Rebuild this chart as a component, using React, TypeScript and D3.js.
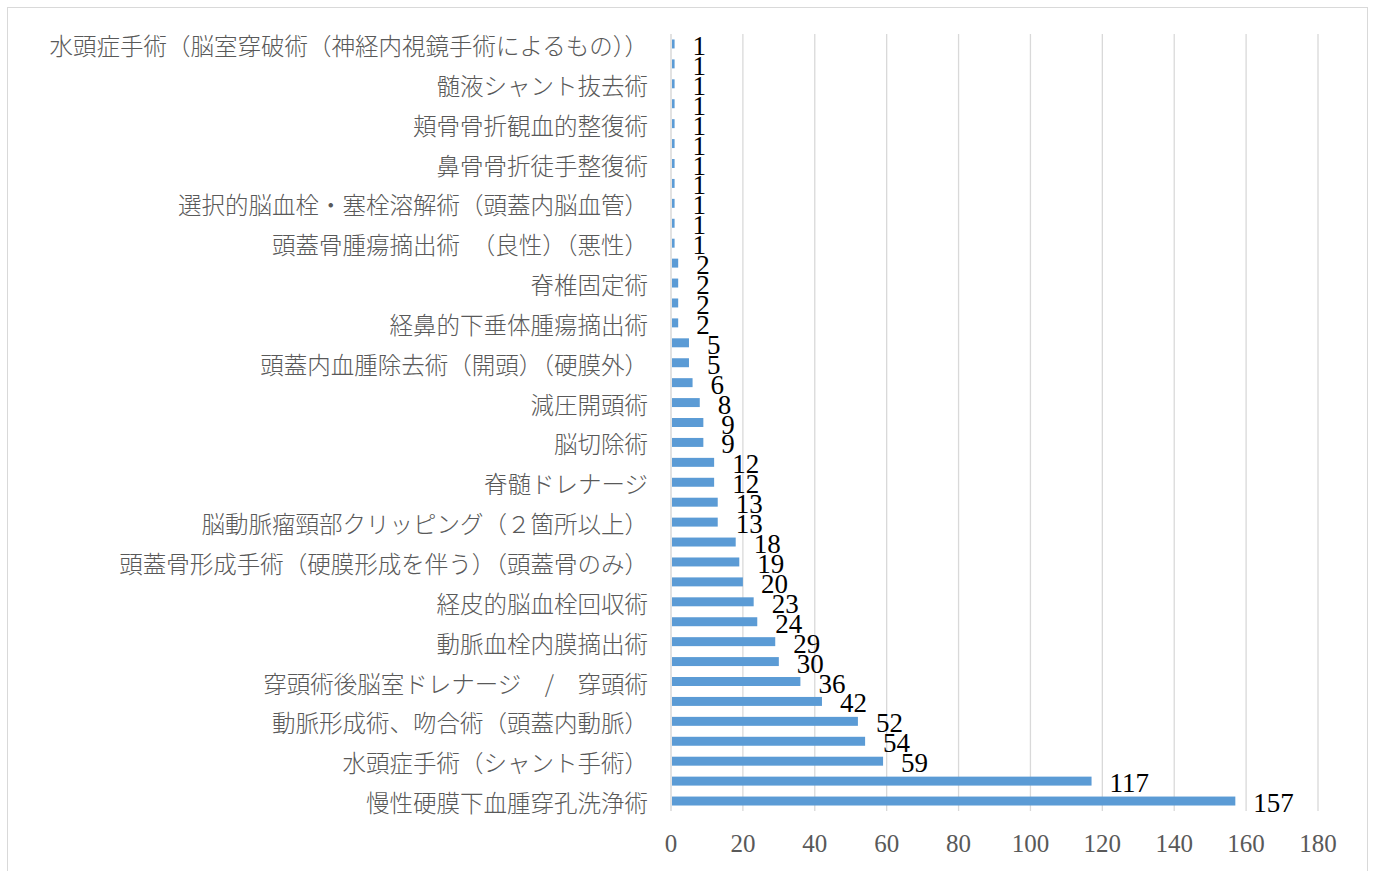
import React from 'react';
import * as d3 from 'd3';

// categories top to bottom; only every other one is labelled in the original chart
const categories: string[] = [
    '水頭症手術（脳室穿破術（神経内視鏡手術によるもの））', '',
    '髄液シャント抜去術', '',
    '頬骨骨折観血的整復術', '',
    '鼻骨骨折徒手整復術', '',
    '選択的脳血栓・塞栓溶解術（頭蓋内脳血管）', '',
    '頭蓋骨腫瘍摘出術　（良性）（悪性）', '',
    '脊椎固定術', '',
    '経鼻的下垂体腫瘍摘出術', '',
    '頭蓋内血腫除去術（開頭）（硬膜外）', '',
    '減圧開頭術', '',
    '脳切除術', '',
    '脊髄ドレナージ', '',
    '脳動脈瘤頸部クリッピング（２箇所以上）', '',
    '頭蓋骨形成手術（硬膜形成を伴う）（頭蓋骨のみ）', '',
    '経皮的脳血栓回収術', '',
    '動脈血栓内膜摘出術', '',
    '穿頭術後脳室ドレナージ　/　穿頭術', '',
    '動脈形成術、吻合術（頭蓋内動脈）', '',
    '水頭症手術（シャント手術）', '',
    '慢性硬膜下血腫穿孔洗浄術',
];

const counts: number[] = [
    1, 1, 1, 1, 1, 1, 1, 1, 1, 1, 1,
    2, 2, 2, 2,
    5, 5, 6, 8, 9, 9,
    12, 12, 13, 13,
    18, 19, 20, 23, 24,
    29, 30, 36, 42, 52, 54, 59,
    117, 157,
];

const xTicks: number[] = [0, 20, 40, 60, 80, 100, 120, 140, 160, 180];

const W = 1376;
const H = 871;

const App: React.FC = () => {
    const x = d3.scaleLinear().domain([0, 180]).range([671, 1318]);
    const y = d3.scaleBand<number>()
        .domain(d3.range(categories.length))
        .range([34, 811])
        .paddingInner(0.55)
        .paddingOuter(0.275);
    const bw = y.bandwidth();
    const serif = '"Liberation Serif", "DejaVu Serif", serif';
    const cjk = '"Noto Sans CJK JP", "Noto Sans", sans-serif';

    return (
        <svg width={W} height={H} style={{ position: 'absolute', left: 0, top: 0, display: 'block' }}>
            <rect x={0} y={0} width={W} height={H} fill="#fff" />
            <rect x={7.5} y={7.5} width={1360} height={880} fill="none" stroke="#d9d9d9" strokeWidth={1} />

            {/* vertical gridlines */}
            {xTicks.map(t => (
                <line key={'g' + t} x1={x(t)} x2={x(t)} y1={34} y2={811} stroke="#d9d9d9" strokeWidth={t === 0 ? 1.5 : 1.3} />
            ))}

            {/* bars */}
            {counts.map((v, i) => (
                <rect key={'b' + i} x={x(0) + 1} y={y(i)!} width={Math.max(0, x(v) - x(0) - 1)} height={bw} fill="#5b9bd5" />
            ))}

            {/* value labels */}
            {counts.map((v, i) => (
                <text key={'v' + i} x={x(v) + 18} y={y(i)! + bw / 2 + 2} dominantBaseline="central"
                    fontFamily={serif} fontSize={27} fill="#000">{v}</text>
            ))}

            {/* category labels */}
            {categories.map((c, i) => c ? (
                <text key={'c' + i} x={648} y={y(i)! + bw / 2 + 1} textAnchor="end" dominantBaseline="central"
                    fontFamily={cjk} fontSize={23.5} fontWeight={300} fill="#595959">{c}</text>
            ) : null)}

            {/* x tick labels */}
            {xTicks.map(t => (
                <text key={'t' + t} x={x(t)} y={843} textAnchor="middle" dominantBaseline="central"
                    fontFamily={serif} fontSize={25} fill="#595959">{t}</text>
            ))}
        </svg>
    );
};

export default App;
